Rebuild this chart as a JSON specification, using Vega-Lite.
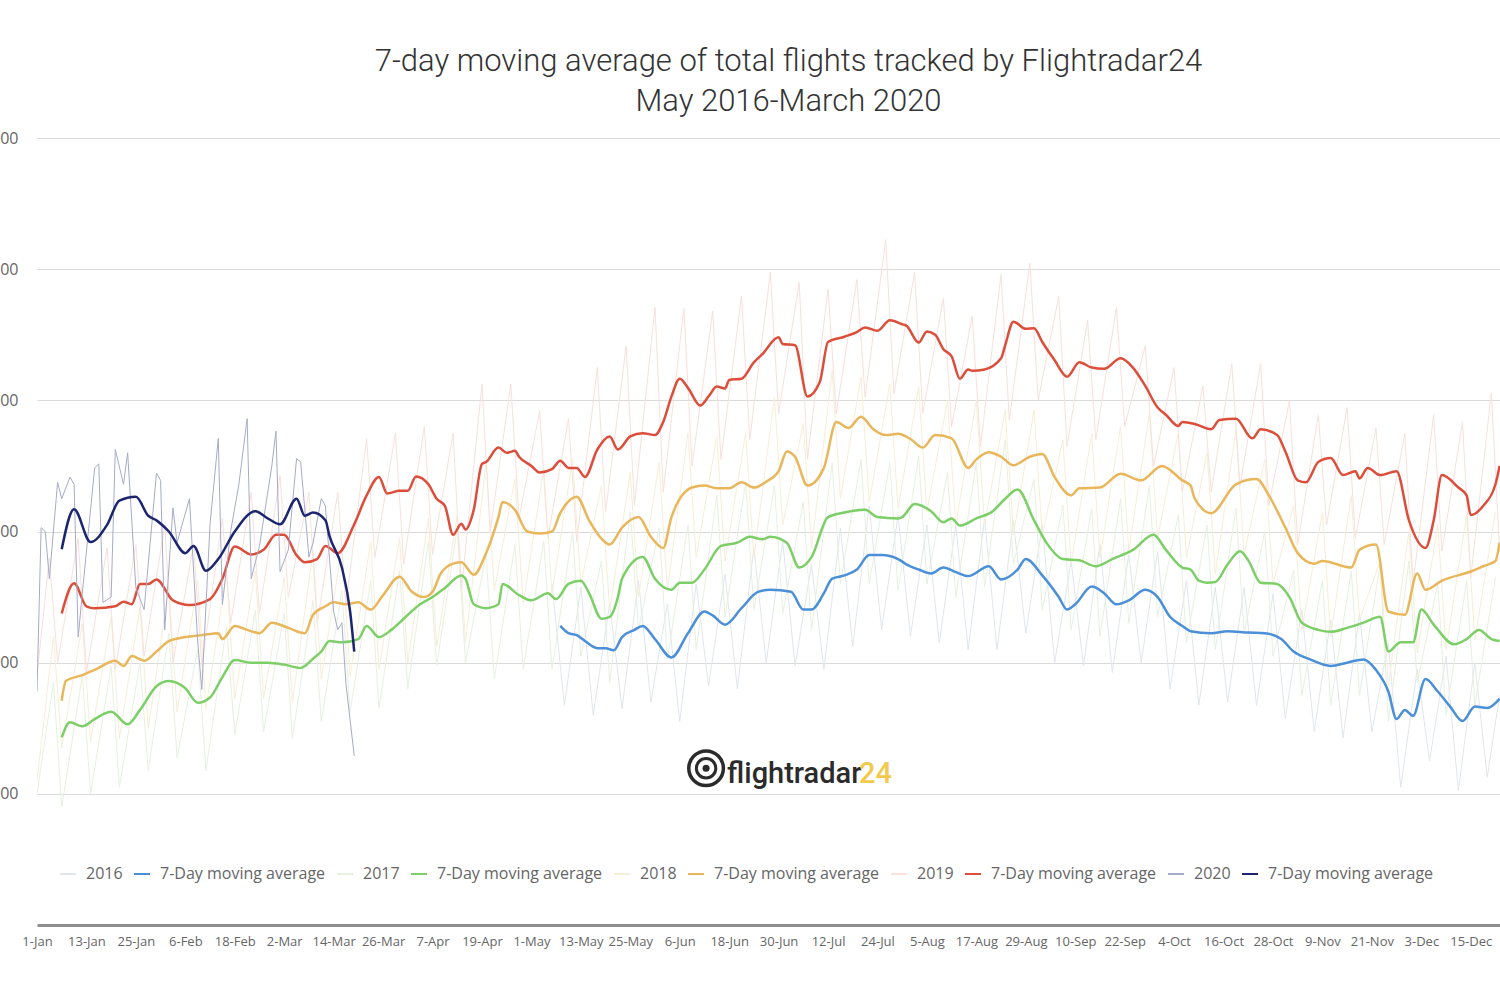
{
"$schema": "https://vega.github.io/schema/vega-lite/v6.json",
"width": 1463, "height": 787,
"autosize": {"type": "none"},
"padding": {"left": 37, "top": 138, "right": 0, "bottom": 75},
"background": "white",
"title": {"text": ["7-day moving average of total flights tracked by Flightradar24", "May 2016-March 2020"], "font": "Roboto", "fontSize": 31, "fontWeight": 300, "color": "#333333", "lineHeight": 40, "anchor": "middle", "dx": 20, "offset": 12},
"config": {"view": {"stroke": null}, "font": "Open Sans"},
"datasets": {
"ma20": [{"d":6,"v":177300},{"d":9,"v":183400},{"d":13,"v":178400},{"d":17,"v":181000},{"d":20,"v":184700},{"d":24,"v":185300},{"d":27,"v":182400},{"d":29,"v":181700},{"d":32,"v":180000},{"d":36,"v":176700},{"d":38,"v":177800},{"d":41,"v":174000},{"d":44,"v":175800},{"d":48,"v":180000},{"d":53,"v":183100},{"d":56,"v":182000},{"d":59,"v":181100},{"d":63,"v":185000},{"d":65,"v":182400},{"d":67,"v":182900},{"d":70,"v":181700},{"d":71,"v":179300},{"d":74,"v":174500},{"d":76,"v":167800},{"d":77,"v":161700}],
"d20": [{"d":0,"v":155600},{"d":1,"v":180600},{"d":2,"v":180000},{"d":3,"v":172800},{"d":5,"v":187500},{"d":6,"v":185000},{"d":8,"v":188300},{"d":9,"v":187200},{"d":10,"v":163900},{"d":11,"v":170600},{"d":14,"v":189700},{"d":15,"v":190300},{"d":16,"v":169200},{"d":18,"v":170000},{"d":19,"v":192500},{"d":21,"v":187200},{"d":22,"v":192000},{"d":24,"v":171400},{"d":26,"v":168100},{"d":29,"v":188900},{"d":30,"v":187800},{"d":31,"v":165000},{"d":33,"v":183600},{"d":34,"v":178300},{"d":37,"v":185000},{"d":39,"v":163300},{"d":40,"v":155900},{"d":42,"v":181100},{"d":44,"v":194200},{"d":45,"v":168900},{"d":47,"v":180000},{"d":49,"v":187200},{"d":51,"v":197200},{"d":52,"v":172800},{"d":54,"v":177800},{"d":57,"v":190000},{"d":58,"v":195300},{"d":59,"v":173900},{"d":61,"v":177200},{"d":63,"v":191100},{"d":64,"v":190600},{"d":66,"v":176100},{"d":67,"v":178300},{"d":69,"v":185000},{"d":70,"v":183900},{"d":72,"v":167800},{"d":73,"v":165000},{"d":74,"v":166100},{"d":75,"v":156700},{"d":77,"v":145800}],
"ma19": [{"d":6,"v":167500},{"d":9,"v":172100},{"d":12,"v":168600},{"d":14,"v":168300},{"d":19,"v":168600},{"d":21,"v":169300},{"d":23,"v":168900},{"d":25,"v":172000},{"d":27,"v":172000},{"d":29,"v":172700},{"d":33,"v":169500},{"d":37,"v":168800},{"d":42,"v":169700},{"d":45,"v":172800},{"d":48,"v":177700},{"d":52,"v":176500},{"d":55,"v":177200},{"d":58,"v":179500},{"d":60,"v":179500},{"d":63,"v":176400},{"d":65,"v":175300},{"d":68,"v":175800},{"d":70,"v":177800},{"d":73,"v":176700},{"d":77,"v":181100},{"d":80,"v":185500},{"d":83,"v":188300},{"d":85,"v":185800},{"d":88,"v":186200},{"d":90,"v":186200},{"d":92,"v":188400},{"d":95,"v":187200},{"d":97,"v":185000},{"d":99,"v":183900},{"d":101,"v":179500},{"d":103,"v":181200},{"d":104,"v":180300},{"d":106,"v":183300},{"d":108,"v":190300},{"d":109,"v":190600},{"d":112,"v":192800},{"d":114,"v":192000},{"d":116,"v":192300},{"d":117,"v":191400},{"d":120,"v":190000},{"d":122,"v":189000},{"d":125,"v":189500},{"d":127,"v":190800},{"d":129,"v":189700},{"d":131,"v":189700},{"d":133,"v":188300},{"d":136,"v":192500},{"d":139,"v":194500},{"d":141,"v":192500},{"d":144,"v":194500},{"d":147,"v":195000},{"d":150,"v":194700},{"d":152,"v":196700},{"d":154,"v":200600},{"d":156,"v":203300},{"d":158,"v":201900},{"d":161,"v":199200},{"d":163,"v":200600},{"d":165,"v":202100},{"d":167,"v":201800},{"d":168,"v":203100},{"d":171,"v":203300},{"d":174,"v":205800},{"d":176,"v":207000},{"d":180,"v":209600},{"d":181,"v":208600},{"d":184,"v":208400},{"d":187,"v":200600},{"d":190,"v":202800},{"d":192,"v":208900},{"d":196,"v":209700},{"d":199,"v":210400},{"d":201,"v":211100},{"d":204,"v":210600},{"d":207,"v":212200},{"d":210,"v":211600},{"d":211,"v":211400},{"d":214,"v":208800},{"d":216,"v":210500},{"d":218,"v":210000},{"d":220,"v":207800},{"d":222,"v":206700},{"d":224,"v":203300},{"d":226,"v":204700},{"d":227,"v":204500},{"d":230,"v":204700},{"d":234,"v":206400},{"d":235,"v":208400},{"d":237,"v":212000},{"d":240,"v":210900},{"d":242,"v":211000},{"d":244,"v":208900},{"d":247,"v":206100},{"d":250,"v":203600},{"d":253,"v":205800},{"d":256,"v":205000},{"d":259,"v":204800},{"d":263,"v":206400},{"d":266,"v":205000},{"d":269,"v":202200},{"d":272,"v":198900},{"d":274,"v":197800},{"d":277,"v":196100},{"d":278,"v":196700},{"d":281,"v":196400},{"d":285,"v":195600},{"d":287,"v":197000},{"d":291,"v":197200},{"d":295,"v":194200},{"d":297,"v":195600},{"d":301,"v":194700},{"d":303,"v":192200},{"d":306,"v":187800},{"d":308,"v":187500},{"d":311,"v":190600},{"d":314,"v":191200},{"d":317,"v":188600},{"d":320,"v":189200},{"d":321,"v":188100},{"d":323,"v":189700},{"d":326,"v":188600},{"d":330,"v":189200},{"d":333,"v":181700},{"d":337,"v":177500},{"d":339,"v":181700},{"d":341,"v":188600},{"d":345,"v":186700},{"d":347,"v":185500},{"d":348,"v":182500},{"d":351,"v":183900},{"d":354,"v":187200},{"d":355,"v":190000}],
"d19": [{"d":0,"v":158000},{"d":3,"v":176000},{"d":5,"v":160000},{"d":10,"v":179000},{"d":12,"v":158500},{"d":17,"v":177500},{"d":19,"v":159000},{"d":24,"v":178000},{"d":26,"v":161000},{"d":31,"v":181000},{"d":33,"v":160000},{"d":38,"v":178000},{"d":40,"v":159500},{"d":45,"v":182000},{"d":47,"v":166000},{"d":52,"v":186000},{"d":54,"v":167500},{"d":59,"v":188500},{"d":61,"v":170000},{"d":66,"v":186000},{"d":68,"v":166000},{"d":73,"v":186000},{"d":75,"v":169000},{"d":80,"v":194200},{"d":82,"v":176000},{"d":87,"v":195000},{"d":89,"v":175000},{"d":94,"v":196000},{"d":96,"v":176500},{"d":101,"v":195000},{"d":103,"v":171000},{"d":108,"v":202500},{"d":110,"v":180000},{"d":115,"v":202500},{"d":117,"v":182000},{"d":122,"v":198400},{"d":124,"v":179000},{"d":129,"v":197200},{"d":131,"v":178500},{"d":136,"v":205000},{"d":138,"v":183000},{"d":143,"v":208300},{"d":145,"v":184000},{"d":150,"v":214200},{"d":152,"v":186000},{"d":157,"v":214000},{"d":159,"v":190000},{"d":164,"v":213600},{"d":166,"v":191000},{"d":171,"v":215900},{"d":173,"v":194000},{"d":178,"v":219500},{"d":180,"v":198000},{"d":185,"v":218000},{"d":187,"v":191000},{"d":192,"v":217000},{"d":194,"v":198000},{"d":199,"v":218400},{"d":201,"v":200500},{"d":206,"v":224500},{"d":208,"v":201000},{"d":213,"v":219500},{"d":215,"v":198000},{"d":220,"v":215600},{"d":222,"v":196000},{"d":227,"v":212800},{"d":229,"v":193000},{"d":234,"v":219200},{"d":236,"v":197000},{"d":241,"v":220900},{"d":243,"v":200000},{"d":248,"v":215900},{"d":250,"v":193000},{"d":255,"v":212200},{"d":257,"v":194000},{"d":262,"v":214200},{"d":264,"v":196000},{"d":269,"v":208300},{"d":271,"v":190000},{"d":276,"v":205000},{"d":278,"v":186000},{"d":283,"v":202200},{"d":285,"v":186000},{"d":290,"v":205600},{"d":292,"v":187000},{"d":297,"v":205600},{"d":299,"v":184000},{"d":304,"v":200000},{"d":306,"v":178000},{"d":311,"v":197800},{"d":313,"v":181000},{"d":318,"v":198900},{"d":320,"v":179000},{"d":325,"v":195800},{"d":327,"v":178000},{"d":332,"v":195000},{"d":334,"v":172000},{"d":339,"v":197800},{"d":341,"v":177000},{"d":346,"v":196700},{"d":348,"v":173000},{"d":353,"v":201100},{"d":355,"v":177000}],
"d18": [{"d":0,"v":142000},{"d":4,"v":164000},{"d":6,"v":147000},{"d":11,"v":166000},{"d":13,"v":148000},{"d":18,"v":167000},{"d":20,"v":148500},{"d":25,"v":168500},{"d":27,"v":150000},{"d":32,"v":171500},{"d":34,"v":152500},{"d":39,"v":172500},{"d":41,"v":153000},{"d":46,"v":173500},{"d":48,"v":154500},{"d":53,"v":174000},{"d":55,"v":154500},{"d":60,"v":173000},{"d":62,"v":154000},{"d":67,"v":177000},{"d":69,"v":157500},{"d":74,"v":177500},{"d":76,"v":158000},{"d":81,"v":178500},{"d":83,"v":159000},{"d":88,"v":179000},{"d":90,"v":160000},{"d":95,"v":182000},{"d":97,"v":162500},{"d":102,"v":182500},{"d":104,"v":163000},{"d":109,"v":190500},{"d":111,"v":171000},{"d":116,"v":188000},{"d":118,"v":169000},{"d":123,"v":189500},{"d":125,"v":170500},{"d":130,"v":191000},{"d":132,"v":172000},{"d":137,"v":187000},{"d":139,"v":168000},{"d":144,"v":189000},{"d":146,"v":170000},{"d":151,"v":190500},{"d":153,"v":171000},{"d":158,"v":195000},{"d":160,"v":176000},{"d":165,"v":194500},{"d":167,"v":175500},{"d":172,"v":195000},{"d":174,"v":176000},{"d":179,"v":200500},{"d":181,"v":181000},{"d":186,"v":196500},{"d":188,"v":177500},{"d":193,"v":204500},{"d":195,"v":185000},{"d":200,"v":203500},{"d":202,"v":184500},{"d":207,"v":202500},{"d":209,"v":183500},{"d":214,"v":202000},{"d":216,"v":183000},{"d":221,"v":200000},{"d":223,"v":181000},{"d":228,"v":200000},{"d":230,"v":181000},{"d":235,"v":198500},{"d":237,"v":179500},{"d":242,"v":198500},{"d":244,"v":179500},{"d":249,"v":194000},{"d":251,"v":175000},{"d":256,"v":195000},{"d":258,"v":176000},{"d":263,"v":196000},{"d":265,"v":177000},{"d":270,"v":198000},{"d":272,"v":179000},{"d":277,"v":195000},{"d":279,"v":176000},{"d":284,"v":192000},{"d":286,"v":173500},{"d":291,"v":195500},{"d":293,"v":176500},{"d":298,"v":191000},{"d":300,"v":172000},{"d":305,"v":184000},{"d":307,"v":165000},{"d":312,"v":183000},{"d":314,"v":164000},{"d":319,"v":185500},{"d":321,"v":166500},{"d":326,"v":175500},{"d":328,"v":156500},{"d":333,"v":180000},{"d":335,"v":161500},{"d":340,"v":181000},{"d":342,"v":162000},{"d":347,"v":182500},{"d":349,"v":163500},{"d":354,"v":183000}],
"d17": [{"d":0,"v":140000},{"d":4,"v":157000},{"d":6,"v":138000},{"d":11,"v":158000},{"d":13,"v":140000},{"d":18,"v":159500},{"d":20,"v":141000},{"d":25,"v":160000},{"d":27,"v":143500},{"d":32,"v":164500},{"d":34,"v":145500},{"d":39,"v":162000},{"d":41,"v":143500},{"d":46,"v":165500},{"d":48,"v":149000},{"d":53,"v":168000},{"d":55,"v":149500},{"d":60,"v":167500},{"d":62,"v":148500},{"d":67,"v":169500},{"d":69,"v":151000},{"d":74,"v":171000},{"d":76,"v":152500},{"d":81,"v":172500},{"d":83,"v":153000},{"d":88,"v":174000},{"d":90,"v":156000},{"d":95,"v":178500},{"d":97,"v":159500},{"d":102,"v":180500},{"d":104,"v":160000},{"d":109,"v":176500},{"d":111,"v":157500},{"d":116,"v":178000},{"d":118,"v":159000},{"d":123,"v":178500},{"d":125,"v":159000},{"d":130,"v":180000},{"d":132,"v":161000},{"d":137,"v":175500},{"d":139,"v":157000},{"d":144,"v":183000},{"d":146,"v":165000},{"d":151,"v":180500},{"d":153,"v":160500},{"d":158,"v":181000},{"d":160,"v":162000},{"d":165,"v":185500},{"d":167,"v":167000},{"d":172,"v":187500},{"d":174,"v":168000},{"d":179,"v":187000},{"d":181,"v":167500},{"d":186,"v":184500},{"d":188,"v":165000},{"d":193,"v":190500},{"d":195,"v":172000},{"d":200,"v":191000},{"d":202,"v":172000},{"d":207,"v":190500},{"d":209,"v":171000},{"d":214,"v":191500},{"d":216,"v":172000},{"d":221,"v":189000},{"d":223,"v":170000},{"d":228,"v":190500},{"d":230,"v":171500},{"d":235,"v":194000},{"d":237,"v":175000},{"d":242,"v":188000},{"d":244,"v":168000},{"d":249,"v":184000},{"d":251,"v":165000},{"d":256,"v":183500},{"d":258,"v":164000},{"d":263,"v":185000},{"d":265,"v":166000},{"d":270,"v":187000},{"d":272,"v":167000},{"d":277,"v":182500},{"d":279,"v":163000},{"d":284,"v":181000},{"d":286,"v":162000},{"d":291,"v":183500},{"d":293,"v":164500},{"d":298,"v":180000},{"d":300,"v":161000},{"d":305,"v":174000},{"d":307,"v":155000},{"d":312,"v":172500},{"d":314,"v":153500},{"d":319,"v":174000},{"d":321,"v":155000},{"d":326,"v":175000},{"d":328,"v":151000},{"d":333,"v":175500},{"d":335,"v":157000},{"d":340,"v":172000},{"d":342,"v":152000},{"d":347,"v":172500},{"d":349,"v":153500},{"d":354,"v":173000}],
"ma18": [{"d":6,"v":154200},{"d":7,"v":157200},{"d":11,"v":158100},{"d":14,"v":158900},{"d":19,"v":160300},{"d":21,"v":159500},{"d":23,"v":161000},{"d":26,"v":160300},{"d":29,"v":161700},{"d":32,"v":163300},{"d":36,"v":163900},{"d":40,"v":164200},{"d":44,"v":164500},{"d":45,"v":163600},{"d":48,"v":165600},{"d":51,"v":165000},{"d":54,"v":164500},{"d":57,"v":166100},{"d":61,"v":165300},{"d":65,"v":164500},{"d":67,"v":167300},{"d":70,"v":168600},{"d":72,"v":169200},{"d":75,"v":168900},{"d":78,"v":169200},{"d":81,"v":168100},{"d":84,"v":170300},{"d":88,"v":173100},{"d":91,"v":170800},{"d":94,"v":170000},{"d":96,"v":170800},{"d":98,"v":173600},{"d":101,"v":175100},{"d":103,"v":175300},{"d":106,"v":173400},{"d":109,"v":176700},{"d":112,"v":182200},{"d":113,"v":184500},{"d":116,"v":183300},{"d":119,"v":180000},{"d":122,"v":179700},{"d":125,"v":180000},{"d":127,"v":182800},{"d":131,"v":185300},{"d":134,"v":181700},{"d":137,"v":178900},{"d":139,"v":178000},{"d":142,"v":180600},{"d":146,"v":182200},{"d":149,"v":179200},{"d":152,"v":177500},{"d":154,"v":182200},{"d":159,"v":186700},{"d":162,"v":187000},{"d":165,"v":186600},{"d":168,"v":186600},{"d":171,"v":187500},{"d":174,"v":186700},{"d":177,"v":187600},{"d":180,"v":189200},{"d":182,"v":192200},{"d":184,"v":191400},{"d":187,"v":187000},{"d":191,"v":189700},{"d":194,"v":196700},{"d":197,"v":195800},{"d":200,"v":197500},{"d":203,"v":195600},{"d":206,"v":194700},{"d":209,"v":194900},{"d":212,"v":194100},{"d":215,"v":192800},{"d":218,"v":194700},{"d":222,"v":194200},{"d":226,"v":189700},{"d":228,"v":191000},{"d":231,"v":192100},{"d":234,"v":191400},{"d":237,"v":190100},{"d":241,"v":191400},{"d":244,"v":191800},{"d":247,"v":188300},{"d":251,"v":185500},{"d":253,"v":186600},{"d":258,"v":186700},{"d":263,"v":188800},{"d":268,"v":187800},{"d":273,"v":190000},{"d":278,"v":187800},{"d":280,"v":187000},{"d":281,"v":185000},{"d":285,"v":182800},{"d":291,"v":187200},{"d":296,"v":188000},{"d":299,"v":185500},{"d":303,"v":180600},{"d":306,"v":176700},{"d":310,"v":175100},{"d":312,"v":175500},{"d":319,"v":174500},{"d":321,"v":177200},{"d":325,"v":178000},{"d":328,"v":167800},{"d":332,"v":167300},{"d":335,"v":173600},{"d":337,"v":171100},{"d":341,"v":172500},{"d":348,"v":173900},{"d":351,"v":174700},{"d":354,"v":175500},{"d":355,"v":178300}],
"ma17": [{"d":6,"v":148600},{"d":8,"v":150900},{"d":11,"v":150300},{"d":14,"v":151400},{"d":18,"v":152500},{"d":22,"v":150600},{"d":25,"v":152800},{"d":29,"v":156400},{"d":32,"v":157200},{"d":36,"v":156100},{"d":39,"v":153900},{"d":42,"v":154700},{"d":45,"v":157800},{"d":48,"v":160400},{"d":52,"v":160000},{"d":56,"v":160000},{"d":60,"v":159700},{"d":64,"v":159200},{"d":67,"v":160600},{"d":69,"v":161700},{"d":71,"v":163300},{"d":74,"v":163100},{"d":78,"v":163600},{"d":80,"v":165600},{"d":83,"v":163900},{"d":86,"v":165000},{"d":89,"v":166700},{"d":93,"v":168900},{"d":96,"v":170000},{"d":99,"v":171400},{"d":103,"v":173300},{"d":104,"v":172800},{"d":106,"v":168900},{"d":109,"v":168300},{"d":112,"v":168900},{"d":113,"v":172000},{"d":117,"v":170300},{"d":120,"v":169500},{"d":124,"v":170600},{"d":126,"v":169700},{"d":129,"v":172000},{"d":132,"v":172500},{"d":134,"v":170600},{"d":137,"v":166700},{"d":139,"v":167000},{"d":141,"v":170000},{"d":142,"v":172800},{"d":147,"v":176100},{"d":150,"v":172800},{"d":154,"v":171100},{"d":156,"v":172200},{"d":159,"v":172200},{"d":162,"v":174200},{"d":166,"v":177800},{"d":170,"v":178300},{"d":173,"v":179200},{"d":176,"v":178800},{"d":178,"v":179200},{"d":182,"v":178300},{"d":185,"v":174500},{"d":188,"v":176100},{"d":192,"v":182200},{"d":196,"v":182900},{"d":201,"v":183300},{"d":204,"v":182200},{"d":209,"v":182000},{"d":210,"v":182200},{"d":213,"v":184200},{"d":217,"v":183100},{"d":220,"v":181400},{"d":222,"v":182000},{"d":224,"v":180900},{"d":228,"v":182000},{"d":232,"v":183100},{"d":235,"v":185000},{"d":238,"v":186400},{"d":242,"v":181700},{"d":245,"v":178300},{"d":249,"v":175800},{"d":253,"v":175600},{"d":257,"v":174700},{"d":261,"v":175800},{"d":266,"v":177200},{"d":271,"v":179500},{"d":274,"v":177200},{"d":278,"v":174500},{"d":280,"v":174200},{"d":282,"v":172500},{"d":284,"v":172200},{"d":286,"v":172300},{"d":289,"v":175000},{"d":292,"v":177000},{"d":294,"v":175600},{"d":297,"v":172200},{"d":301,"v":172000},{"d":304,"v":170000},{"d":307,"v":166100},{"d":311,"v":165000},{"d":314,"v":164700},{"d":318,"v":165300},{"d":322,"v":166100},{"d":326,"v":167000},{"d":328,"v":161700},{"d":331,"v":163100},{"d":334,"v":163100},{"d":336,"v":168100},{"d":339,"v":165800},{"d":344,"v":162800},{"d":347,"v":163600},{"d":350,"v":165000},{"d":353,"v":163600},{"d":355,"v":163300}],
"ma16": [{"d":127,"v":165600},{"d":129,"v":164500},{"d":131,"v":164200},{"d":133,"v":163300},{"d":136,"v":162200},{"d":138,"v":162200},{"d":140,"v":161900},{"d":142,"v":163900},{"d":145,"v":165000},{"d":147,"v":165600},{"d":150,"v":163600},{"d":154,"v":160800},{"d":158,"v":164500},{"d":162,"v":167800},{"d":164,"v":167200},{"d":167,"v":165800},{"d":171,"v":168300},{"d":175,"v":170800},{"d":178,"v":171100},{"d":183,"v":170800},{"d":186,"v":168100},{"d":188,"v":168100},{"d":191,"v":170600},{"d":193,"v":172800},{"d":196,"v":173300},{"d":199,"v":174200},{"d":202,"v":176400},{"d":205,"v":176400},{"d":209,"v":175800},{"d":211,"v":175000},{"d":214,"v":174200},{"d":217,"v":173600},{"d":220,"v":174500},{"d":223,"v":173800},{"d":226,"v":173200},{"d":231,"v":174700},{"d":234,"v":172700},{"d":238,"v":174200},{"d":240,"v":175800},{"d":244,"v":173300},{"d":248,"v":170000},{"d":250,"v":168100},{"d":252,"v":168900},{"d":256,"v":171600},{"d":259,"v":170600},{"d":262,"v":168900},{"d":265,"v":169500},{"d":269,"v":171100},{"d":272,"v":170000},{"d":275,"v":167000},{"d":278,"v":165600},{"d":280,"v":164800},{"d":285,"v":164500},{"d":289,"v":164800},{"d":294,"v":164600},{"d":298,"v":164500},{"d":302,"v":163600},{"d":305,"v":161700},{"d":309,"v":160500},{"d":314,"v":159500},{"d":318,"v":160000},{"d":322,"v":160500},{"d":325,"v":158900},{"d":328,"v":155600},{"d":330,"v":151400},{"d":332,"v":152800},{"d":334,"v":151900},{"d":337,"v":157500},{"d":340,"v":155600},{"d":343,"v":153300},{"d":346,"v":151100},{"d":349,"v":153300},{"d":352,"v":153100},{"d":355,"v":154500}],
"d16": [{"d":125,"v":172000},{"d":128,"v":153500},{"d":132,"v":171500},{"d":135,"v":152000},{"d":139,"v":169000},{"d":142,"v":153000},{"d":146,"v":172500},{"d":149,"v":154000},{"d":153,"v":169000},{"d":156,"v":151000},{"d":160,"v":172000},{"d":163,"v":156500},{"d":167,"v":173500},{"d":170,"v":156000},{"d":174,"v":177500},{"d":177,"v":160000},{"d":181,"v":178500},{"d":184,"v":159500},{"d":188,"v":175000},{"d":191,"v":159000},{"d":195,"v":180500},{"d":198,"v":162500},{"d":202,"v":184000},{"d":205,"v":165000},{"d":209,"v":182500},{"d":212,"v":164000},{"d":216,"v":181000},{"d":219,"v":163000},{"d":223,"v":181000},{"d":226,"v":162000},{"d":230,"v":182000},{"d":233,"v":162000},{"d":237,"v":181500},{"d":240,"v":164500},{"d":244,"v":181000},{"d":247,"v":160000},{"d":251,"v":175500},{"d":254,"v":159500},{"d":258,"v":178000},{"d":261,"v":158500},{"d":265,"v":176500},{"d":268,"v":160000},{"d":272,"v":177000},{"d":275,"v":156000},{"d":279,"v":172500},{"d":282,"v":153500},{"d":286,"v":171500},{"d":289,"v":154000},{"d":293,"v":171500},{"d":296,"v":153500},{"d":300,"v":170500},{"d":303,"v":151500},{"d":307,"v":168000},{"d":310,"v":149500},{"d":314,"v":166500},{"d":317,"v":148500},{"d":321,"v":167500},{"d":324,"v":149500},{"d":328,"v":163000},{"d":331,"v":141000},{"d":335,"v":159000},{"d":338,"v":145000},{"d":342,"v":161000},{"d":345,"v":140500},{"d":349,"v":160000},{"d":352,"v":142500},{"d":355,"v":155000}]
},
"layer": [
{"encoding": {
"x": {"field": "d", "type": "quantitative", "scale": {"domain": [0, 355.1], "nice": false, "zero": false},
 "axis": {"title": null, "values": [0,12,24,36,48,60,72,84,96,108,120,132,144,156,168,180,192,204,216,228,240,252,264,276,288,300,312,324,336,348], "labelExpr": "timeFormat(datetime(2019, 0, 1 + datum.value), '%-d-%b')", "labelFont": "Open Sans", "labelFontSize": 13, "labelColor": "#666666", "labelPadding": 10, "ticks": false, "grid": false, "domain": true, "domainColor": "#8f8f8f", "domainWidth": 3, "labelOverlap": false, "labelFlush": false}},
"y": {"field": "v", "type": "quantitative", "scale": {"domain": [120000, 240000], "nice": false, "zero": false},
 "axis": {"title": null, "values": [140000,160000,180000,200000,220000,240000], "format": ",d", "labelFont": "Open Sans", "labelFontSize": 16, "labelColor": "#666666", "labelPadding": 19, "ticks": false, "domain": false, "grid": true, "gridColor": "#dadada", "gridWidth": 1}}
},
"layer": [
{"data": {"name": "d16"}, "mark": {"type": "line", "strokeWidth": 1, "clip": true},
 "encoding": {"color": {"datum": "2016", "type": "nominal",
  "scale": {"domain": ["2016","2016 MA","2017","2017 MA","2018","2018 MA","2019","2019 MA","2020","2020 MA"], "range": ["#e1e6ed","#4a8fd8","#e6f1e0","#7ccf67","#f7eed7","#e9b65a","#f8e0db","#dc4e3a","#a5abc9","#1c2670"]},
  "legend": {"orient": "none", "legendX": 22, "legendY": 727, "direction": "horizontal", "columns": 10, "title": null, "labelExpr": "indexof(datum.label, 'MA') > 0 ? '7-Day moving average' : datum.label", "labelFont": "Open Sans", "labelFontSize": 16, "labelColor": "#666666", "labelLimit": 400, "symbolType": "stroke", "symbolStrokeWidth": 2, "symbolSize": 256, "labelOffset": 9, "columnPadding": 7}}}},
{"data": {"name": "d17"}, "mark": {"type": "line", "strokeWidth": 1, "clip": true}, "encoding": {"color": {"datum": "2017", "type": "nominal"}}},
{"data": {"name": "d18"}, "mark": {"type": "line", "strokeWidth": 1, "clip": true}, "encoding": {"color": {"datum": "2018", "type": "nominal"}}},
{"data": {"name": "d19"}, "mark": {"type": "line", "strokeWidth": 1, "clip": true}, "encoding": {"color": {"datum": "2019", "type": "nominal"}}},
{"data": {"name": "ma16"}, "mark": {"type": "line", "strokeWidth": 2.5, "interpolate": "monotone", "clip": true}, "encoding": {"color": {"datum": "2016 MA", "type": "nominal"}}},
{"data": {"name": "ma17"}, "mark": {"type": "line", "strokeWidth": 2.5, "interpolate": "monotone", "clip": true}, "encoding": {"color": {"datum": "2017 MA", "type": "nominal"}}},
{"data": {"name": "ma18"}, "mark": {"type": "line", "strokeWidth": 2.5, "interpolate": "monotone", "clip": true}, "encoding": {"color": {"datum": "2018 MA", "type": "nominal"}}},
{"data": {"name": "ma19"}, "mark": {"type": "line", "strokeWidth": 2.5, "interpolate": "monotone", "clip": true}, "encoding": {"color": {"datum": "2019 MA", "type": "nominal"}}},
{"data": {"name": "d20"}, "mark": {"type": "line", "strokeWidth": 1, "clip": true}, "encoding": {"color": {"datum": "2020", "type": "nominal"}}},
{"data": {"name": "ma20"}, "mark": {"type": "line", "strokeWidth": 2.5, "interpolate": "monotone", "clip": true}, "encoding": {"color": {"datum": "2020 MA", "type": "nominal"}}}
]},
{"data": {"values": [{}]}, "mark": {"type": "point", "shape": "circle", "filled": false, "stroke": "#2b2b2b", "strokeWidth": 3.5, "size": 1200, "opacity": 1},
 "encoding": {"x": {"datum": 162.4, "type": "quantitative"}, "y": {"datum": 143900, "type": "quantitative"}}},
{"data": {"values": [{}]}, "mark": {"type": "point", "shape": "circle", "filled": false, "stroke": "#2b2b2b", "strokeWidth": 3, "size": 380, "opacity": 1},
 "encoding": {"x": {"datum": 162.4, "type": "quantitative"}, "y": {"datum": 143900, "type": "quantitative"}}},
{"data": {"values": [{}]}, "mark": {"type": "point", "shape": "circle", "filled": true, "fill": "#2b2b2b", "size": 50, "opacity": 1},
 "encoding": {"x": {"datum": 162.4, "type": "quantitative"}, "y": {"datum": 143900, "type": "quantitative"}}},
{"data": {"values": [{}]}, "mark": {"type": "text", "text": "flightradar", "font": "Roboto", "fontSize": 29, "fontWeight": 500, "color": "#2b2b2b", "align": "left", "baseline": "alphabetic"},
 "encoding": {"x": {"datum": 167.5, "type": "quantitative"}, "y": {"datum": 141600, "type": "quantitative"}}},
{"data": {"values": [{}]}, "mark": {"type": "text", "text": "24", "font": "Roboto", "fontSize": 29, "fontWeight": 500, "color": "#f2c94c", "align": "left", "baseline": "alphabetic"},
 "encoding": {"x": {"datum": 199.5, "type": "quantitative"}, "y": {"datum": 141600, "type": "quantitative"}}}
]
}
